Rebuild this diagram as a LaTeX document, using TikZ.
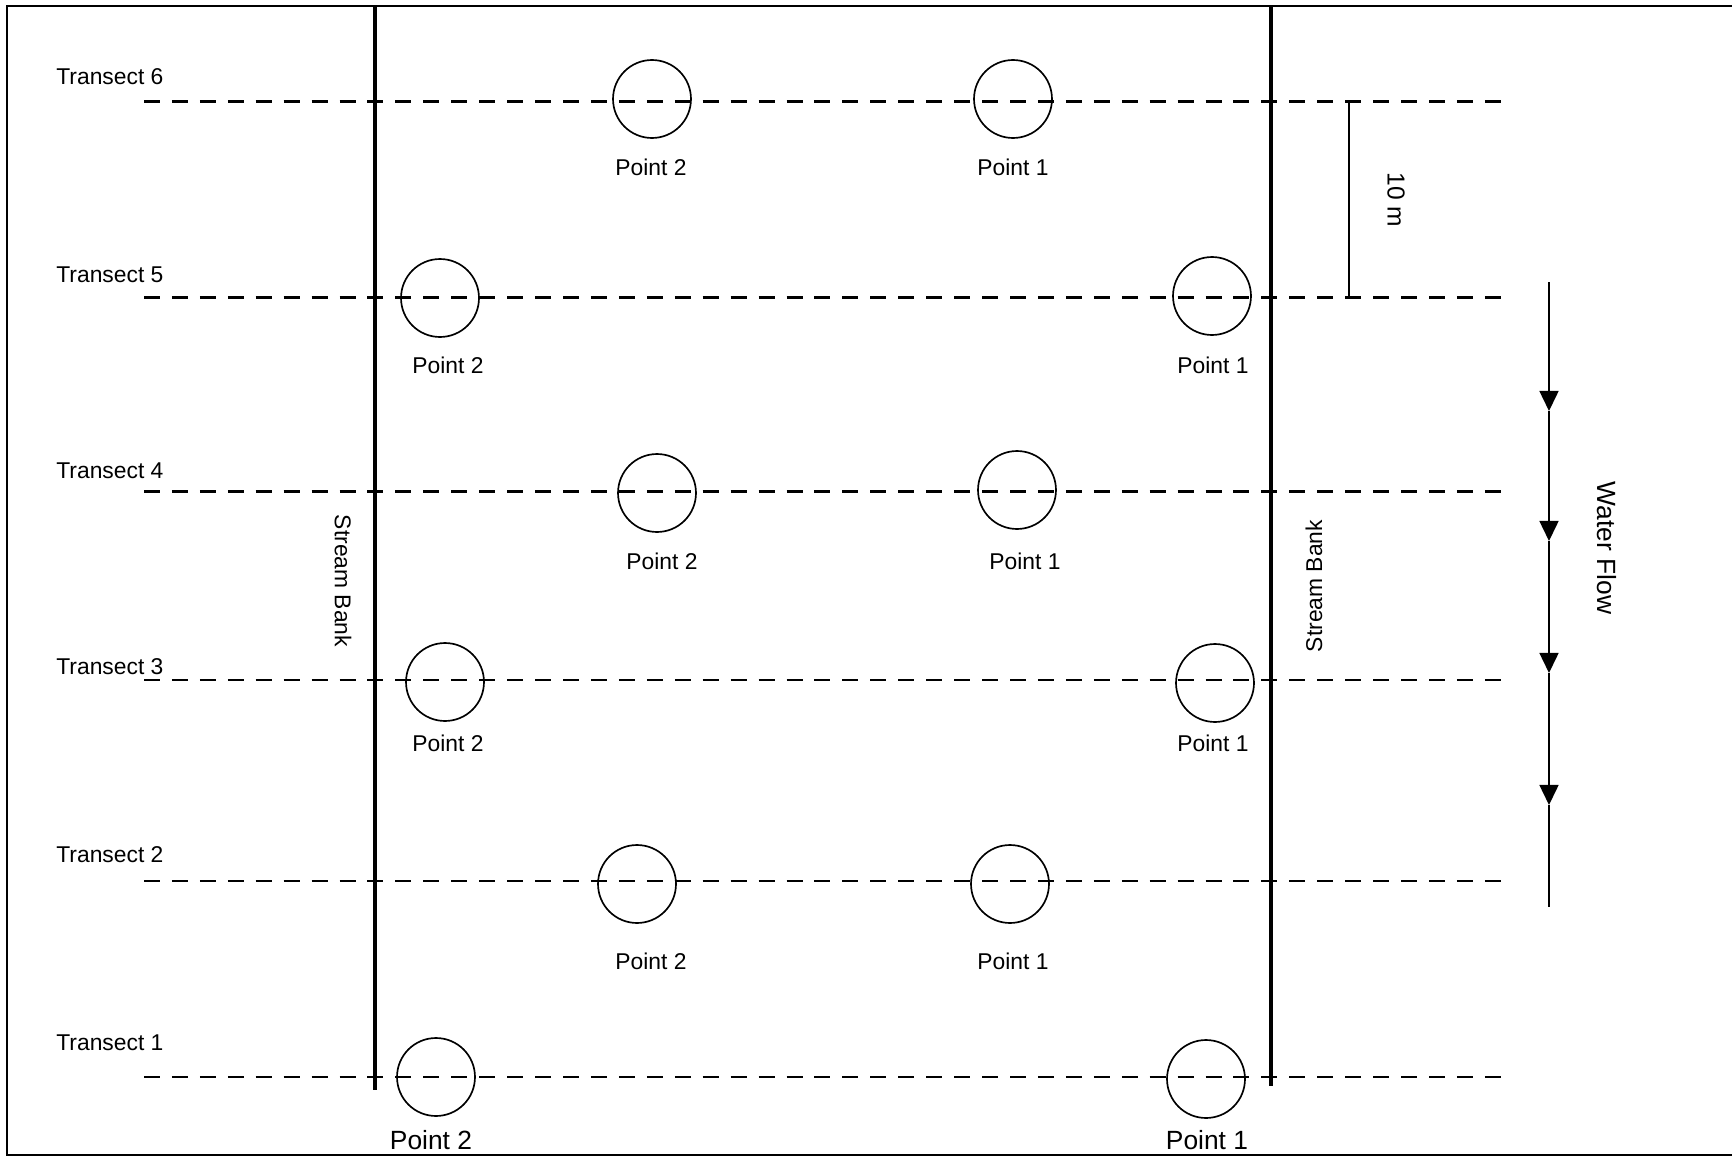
\documentclass[tikz,border=0pt]{standalone}
\usepackage{fontspec}
\setmainfont{Liberation Sans}
\usepackage{tikz}
\usetikzlibrary{arrows.meta,positioning,calc}

\begin{document}
\begin{tikzpicture}[
    x=0.02cm, y=-0.02cm,
    frame/.style={draw=black, line width=1.1pt},
    bank/.style={draw=black, line width=2pt},
    transect/.style={draw=black, line width=1.35pt, dash pattern=on 9.1pt off 6.8pt},
    pt/.style={circle, draw=black, line width=0.95pt, minimum size=1.56cm, inner sep=0pt},
    ptlbl/.style={inner sep=0pt, font=\fontsize{13}{15}\selectfont},
    ptbig/.style={inner sep=0pt, font=\fontsize{15}{17}\selectfont},
    tlbl/.style={inner sep=0pt, anchor=west, font=\fontsize{13}{15}\selectfont},
    arr/.style={-{Triangle[length=11.4pt, width=10.8pt]}, line width=0.95pt, draw=black}
]
    \useasboundingbox (0,0) rectangle (1732,1156);
    \draw [frame] (7,6) rectangle (1745,1155);

    % transects
    \foreach \n/\y/\ly in {6/101.5/77, 5/297.5/275, 4/491.5/471, 3/680/667, 2/881/855, 1/1077/1043} {
        \coordinate (t\n a) at (144,\y);
        \coordinate (t\n b) at (1504,\y);
        \draw [transect] (t\n a) -- (t\n b);
        \node [tlbl] (tl\n) at (56,\ly) {Transect \n};
    }

    % stream banks
    \coordinate (lbTop) at (375,6);
    \coordinate (lbBot) at (375,1090);
    \coordinate (rbTop) at (1271,6);
    \coordinate (rbBot) at (1271,1086);
    \draw [bank] (lbTop) -- (lbBot);
    \draw [bank] (rbTop) -- (rbBot);
    \node [ptlbl, rotate=-90] (lbank) at (343,581) {Stream Bank};
    \node [ptlbl, rotate=90] (rbank) at (1314,586) {Stream Bank};

    % sampling points
    \node [pt] (p62) at (652,99) {};
    \node [pt] (p61) at (1013,99) {};
    \node [pt] (p52) at (440,298) {};
    \node [pt] (p51) at (1212,296) {};
    \node [pt] (p42) at (657,493) {};
    \node [pt] (p41) at (1017,490) {};
    \node [pt] (p32) at (445,682) {};
    \node [pt] (p31) at (1215,683) {};
    \node [pt] (p22) at (637,884) {};
    \node [pt] (p21) at (1010,884) {};
    \node [pt] (p12) at (436,1077) {};
    \node [pt] (p11) at (1206,1079) {};

    \node [ptlbl] (l62) at (651,167) {Point 2};
    \node [ptlbl] (l61) at (1013,167) {Point 1};
    \node [ptlbl] (l52) at (448,365) {Point 2};
    \node [ptlbl] (l51) at (1213,365) {Point 1};
    \node [ptlbl] (l42) at (662,561) {Point 2};
    \node [ptlbl] (l41) at (1025,561) {Point 1};
    \node [ptlbl] (l32) at (448,743) {Point 2};
    \node [ptlbl] (l31) at (1213,743) {Point 1};
    \node [ptlbl] (l22) at (651,961) {Point 2};
    \node [ptlbl] (l21) at (1013,961) {Point 1};
    \node [ptbig] (l12) at (431,1140) {Point 2};
    \node [ptbig] (l11) at (1207,1140) {Point 1};

    % 10 m spacing
    \coordinate (dTop) at (1349,101.5);
    \coordinate (dBot) at (1349,297.5);
    \draw [line width=0.95pt] (dTop) -- (dBot);
    \node [inner sep=0pt, rotate=-90, font=\fontsize{14}{16}\selectfont] (dist) at (1396,200) {10 m};

    % water flow
    \coordinate (w0) at (1549,282);
    \coordinate (w1) at (1549,411);
    \coordinate (w2) at (1549,541);
    \coordinate (w3) at (1549,673);
    \coordinate (w4) at (1549,805);
    \coordinate (w5) at (1549,907);
    \draw [arr] (w0) -- (w1);
    \draw [arr] (w1) -- (w2);
    \draw [arr] (w2) -- (w3);
    \draw [arr] (w3) -- (w4);
    \draw [line width=0.95pt] (w4) -- (w5);
    \node [inner sep=0pt, rotate=-90, font=\fontsize{15}{17}\selectfont] (flow) at (1607,548) {Water Flow};
\end{tikzpicture}
\end{document}
